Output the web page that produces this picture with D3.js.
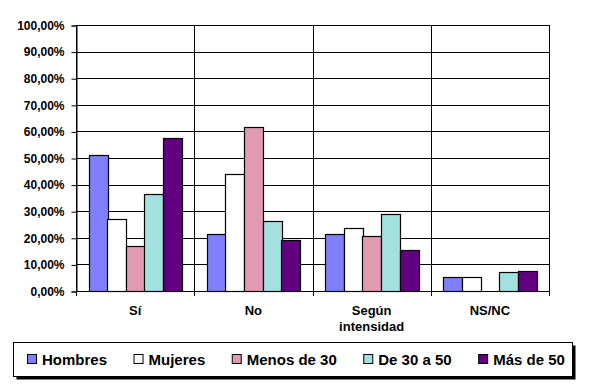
<!DOCTYPE html>
<html>
<head>
<meta charset="utf-8">
<script src="https://cdnjs.cloudflare.com/ajax/libs/d3/7.8.5/d3.min.js"></script>
<style>
  body { margin: 0; background: #fff; }
  svg text { font-family: Arial, "Liberation Sans", sans-serif; }
</style>
</head>
<body>
<svg id="chart" width="597" height="384"></svg>
<script>
// categories and series
var categories = ["Sí", "No", "Según intensidad", "NS/NC"];
var series = ["Hombres", "Mujeres", "Menos de 30", "De 30 a 50", "Más de 50"];
var colors = ["#8080FF", "#FFFFFF", "#E09AB2", "#A3E0E0", "#600080"];

var hombres   = [51.3, 21.6, 21.6, 5.1];
var mujeres   = [26.9, 43.9, 23.5, 5.1];
var menos30   = [17.1, 61.8, 20.5, null];
var de30a50   = [36.3, 26.5, 29.1, 7.1];
var masDe50   = [57.4, 19.1, 15.4, 7.5];

var yTicks = [0, 10, 20, 30, 40, 50, 60, 70, 80, 90, 100];

var values = [hombres, mujeres, menos30, de30a50, masDe50];

var svg = d3.select("#chart");
var plotL = 76, plotR = 549, plotT = 25, plotB = 291;

var x0 = d3.scaleBand().domain(categories).range([plotL, plotR]).padding(0);
var x1 = d3.scaleBand().domain(series).range([0, x0.bandwidth()]).paddingInner(0).paddingOuter(0.68);
var y = d3.scaleLinear().domain([0, 100]).range([plotB, plotT]);

var fmt = function (d) { return d.toFixed(2).replace(".", ",") + "%"; };

// horizontal gridlines
svg.append("g").selectAll("line").data(yTicks).join("line")
  .attr("x1", plotL).attr("x2", plotR)
  .attr("y1", function (d) { return Math.round(y(d)) + 0.5; })
  .attr("y2", function (d) { return Math.round(y(d)) + 0.5; })
  .attr("stroke", "#000").attr("stroke-width", 1);

// vertical category separators
var bounds = categories.map(function (c) { return x0(c); }).concat([plotR]);
svg.append("g").selectAll("line").data(bounds).join("line")
  .attr("x1", function (d) { return Math.round(d) + 0.5; })
  .attr("x2", function (d) { return Math.round(d) + 0.5; })
  .attr("y1", plotT).attr("y2", plotB + 5)
  .attr("stroke", "#000").attr("stroke-width", 1);

// y axis
var yAxis = svg.append("g")
  .attr("transform", "translate(" + (plotL + 0.5) + ",0.5)")
  .call(d3.axisLeft(y).tickValues(yTicks).tickFormat(fmt).tickSize(5).tickPadding(7));
yAxis.select(".domain").attr("stroke", "#000");
yAxis.selectAll(".tick line").attr("stroke", "#000");
yAxis.selectAll("text")
  .attr("fill", "#000")
  .style("font-size", "12px").style("font-weight", "bold");

// bars
var barData = [];
categories.forEach(function (c, i) {
  series.forEach(function (s, j) {
    if (values[j][i] != null) barData.push({ cat: c, ser: s, idx: j, v: values[j][i] });
  });
});
svg.append("g").selectAll("rect").data(barData).join("rect")
  .attr("x", function (d) { return Math.round(x0(d.cat) + x1(d.ser)) + 0.5; })
  .attr("y", function (d) { return Math.round(y(d.v)) + 0.5; })
  .attr("width", function (d) { return Math.round(x1.bandwidth()); })
  .attr("height", function (d) { return Math.round(y(0)) - Math.round(y(d.v)); })
  .attr("fill", function (d) { return colors[d.idx]; })
  .attr("stroke", "#000").attr("stroke-width", 1.2);

// category labels
var catLabels = svg.append("g").selectAll("text").data(categories).join("text")
  .attr("x", function (d) { return x0(d) + x0.bandwidth() / 2; })
  .attr("y", 315)
  .attr("text-anchor", "middle")
  .style("font-size", "13px").style("font-weight", "bold");
catLabels.each(function (d) {
  var words = d === "Según intensidad" ? ["Según", "intensidad"] : [d];
  var t = d3.select(this);
  words.forEach(function (w, k) {
    t.append("tspan").attr("x", t.attr("x")).attr("dy", k === 0 ? 0 : 16).text(w);
  });
});

// legend
var lg = svg.append("g");
lg.append("rect").attr("x", 16.5).attr("y", 345.5).attr("width", 559).attr("height", 34).attr("fill", "#000");
lg.append("rect").attr("x", 13.5).attr("y", 342.5).attr("width", 559).attr("height", 34)
  .attr("fill", "#fff").attr("stroke", "#000").attr("stroke-width", 1);

var lx = 27;
series.forEach(function (s, j) {
  lg.append("rect").attr("x", lx + 0.5).attr("y", 354.5).attr("width", 9).attr("height", 9)
    .attr("fill", colors[j]).attr("stroke", "#000").attr("stroke-width", 1);
  var t = lg.append("text").attr("x", lx + 15).attr("y", 365)
    .style("font-size", "15px").style("font-weight", "bold").text(s);
  lx += 15 + t.node().getComputedTextLength() + 26.5;
});
</script>
</body>
</html>
